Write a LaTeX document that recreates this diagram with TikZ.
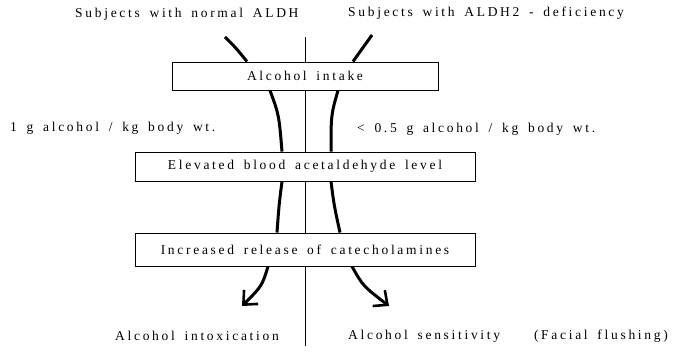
\documentclass[tikz,border=0pt]{standalone}
\usepackage{fontspec}
\setmainfont{Liberation Serif}
\newfontfamily\spaced[LetterSpace=20,WordSpace=1.6]{Liberation Serif}
\usetikzlibrary{arrows.meta}
\begin{document}
\begin{tikzpicture}[x=1pt,y=-1pt,
  lbl/.style={font=\spaced\fontsize{13.5}{15}\selectfont, inner sep=0pt},
  stepbox/.style={draw, line width=0.9pt, fill=white, minimum height=29pt, inner sep=0pt, font=\spaced\fontsize{13.5}{15}\selectfont},
  flow/.style={line width=3pt, line cap=butt},
  tip/.style={-{Straight Barb[length=11pt,width=20pt,line width=2.6pt]}},
  axis/.style={line width=0.8pt}]
\useasboundingbox (0,0) rectangle (673,352);
% centre line
\coordinate (ctop) at (305,37);
\coordinate (cbot) at (305,346);
\draw[axis] (ctop) -- (cbot);
% boxes
\node[stepbox, minimum width=266pt, minimum height=28pt] (b1) at (305,76) {Alcohol intake};
\node[stepbox, minimum width=340pt, minimum height=29pt] (b2) at (305,166.5) {Elevated blood acetaldehyde level};
\node[stepbox, minimum width=340pt, minimum height=33pt] (b3) at (305,249.5) {Increased release of catecholamines};
% labels
\node[lbl, anchor=west] (tl) at (75,14) {Subjects with normal ALDH};
\node[lbl, anchor=west] (tr) at (348,13) {Subjects with ALDH2 - deficiency};
\node[lbl, anchor=west] (dl) at (10,128) {1 g alcohol / kg body wt.};
\node[lbl, anchor=west] (dr) at (357,129) {< 0.5 g alcohol / kg body wt.};
\node[lbl, anchor=west] (ol) at (115,336) {Alcohol intoxication};
\node[lbl, anchor=west] (or) at (348,336) {Alcohol sensitivity};
\node[lbl, anchor=east] (of) at (668,336) {(Facial flushing)};
% free ends of top strokes
\coordinate (sl) at (225,37);
\coordinate (sr) at (372,35);
% top strokes
\draw[flow] (sl) .. controls (236,48) .. (b1.north -| 247,0);
\draw[flow] (sr) .. controls (362,48) .. (b1.north -| 353,0);
% b1 -> b2
\draw[flow] (b1.south -| 270,0) .. controls (279,115) .. (b2.north -| 282,0);
\draw[flow] (b1.south -| 338,0) .. controls (331,115) .. (b2.north -| 331,0);
% b2 -> b3
\draw[flow] (b2.south -| 282,0) .. controls (279,205) .. (b3.north -| 277,0);
\draw[flow] (b2.south -| 331,0) .. controls (334,205) .. (b3.north -| 340,0);
% outcomes
\coordinate (al) at (242,306);
\coordinate (ar) at (389,306);
\draw[flow, tip] (b3.south -| 268,0) .. controls (262,286) .. (al);
\draw[flow, tip] (b3.south -| 352,0) .. controls (363,286) .. (ar);
\end{tikzpicture}
\end{document}
